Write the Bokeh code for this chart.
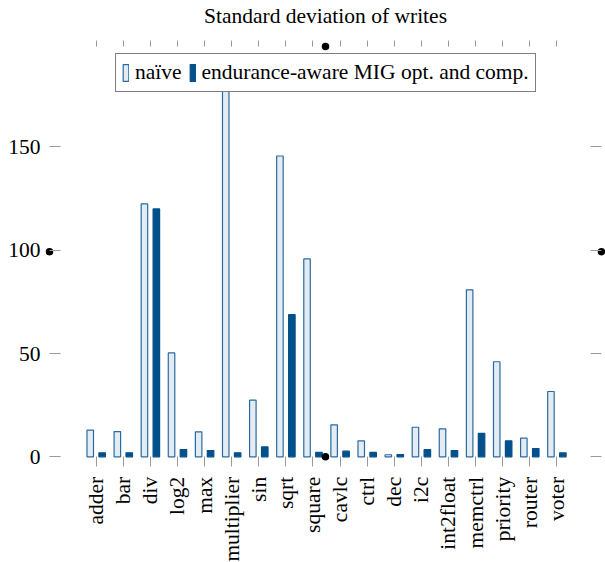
import math
from bokeh.plotting import figure
from bokeh.models import (ColumnDataSource, Range1d, FixedTicker, LinearAxis,
                          Legend, LegendItem, Label)
from bokeh.transform import dodge
from bokeh.embed import file_html
from bokeh.resources import INLINE

# ---- data -------------------------------------------------------------
categories = ["adder", "bar", "div", "log2", "max", "multiplier", "sin", "sqrt",
              "square", "cavlc", "ctrl", "dec", "i2c", "int2float", "memctrl",
              "priority", "router", "voter"]
naive = [12.9, 12.2, 122.4, 50.3, 12.1, 180.5, 27.4, 145.6, 95.8,
         15.5, 7.7, 1.0, 14.3, 13.5, 80.8, 46.0, 9.0, 31.6]
aware = [1.9, 1.9, 120.0, 3.5, 3.0, 1.9, 4.8, 68.8, 2.2,
         2.7, 2.1, 1.1, 3.5, 3.0, 11.3, 7.7, 4.0, 1.9]
y_ticks = [0, 50, 100, 150]
series_names = ["naïve", "endurance-aware MIG opt. and comp."]
title_text = "Standard deviation of writes"

# ---- style / geometry ---------------------------------------------------
FONT = "Liberation Serif"
FS = "21.5px"
LIGHT_FILL = "#e4ecf3"
LIGHT_EDGE = "#2b6aa1"
DARK = "#03508b"
TICK = "#9a9a9a"

W, H = 605, 562
# axis box (visual plot area) in data units
X_LO, X_HI = -1.723, 18.646
Y_LO, Y_HI = 0.0, 198.6
PX_X = 27.1      # pixels per category
PX_Y = 2.066     # pixels per unit
BOX_LEFT_PX = 49.0            # box left edge from canvas left
BOX_BOTTOM_PX = H - 456.3     # box bottom edge from canvas bottom

xr = Range1d(X_LO - BOX_LEFT_PX / PX_X, X_LO + (W - BOX_LEFT_PX) / PX_X)
yr = Range1d(Y_LO - BOX_BOTTOM_PX / PX_Y, Y_LO + (H - BOX_BOTTOM_PX) / PX_Y)

idx = list(range(len(categories)))
src = ColumnDataSource(dict(x=idx, naive=naive, aware=aware))

p = figure(width=W, height=H, output_backend="svg", toolbar_location=None,
           x_range=xr, y_range=yr, x_axis_location=None, y_axis_location=None,
           min_border=0, min_border_left=0, min_border_right=0,
           min_border_top=0, min_border_bottom=0)
p.outline_line_color = None
p.grid.visible = False
p.background_fill_color = "white"
p.border_fill_color = "white"

# bottom axis (category labels)
bottom = LinearAxis(fixed_location=Y_LO, ticker=FixedTicker(ticks=idx),
                    major_label_overrides={i: c for i, c in enumerate(categories)},
                    major_label_orientation=math.pi / 2,
                    major_label_text_font=FONT, major_label_text_font_size=FS,
                    major_label_text_color="black", major_label_standoff=10,
                    major_tick_out=10, major_tick_in=0, major_tick_line_color=TICK,
                    minor_tick_line_color=None, axis_line_color=None)
p.add_layout(bottom, "below")

# left axis
left = LinearAxis(fixed_location=X_LO, ticker=FixedTicker(ticks=y_ticks),
                  major_label_text_font=FONT, major_label_text_font_size=FS,
                  major_label_text_color="black", major_label_standoff=9,
                  major_tick_out=0, major_tick_in=11, major_tick_line_color=TICK,
                  minor_tick_line_color=None, axis_line_color=None)
p.add_layout(left, "left")

# top ticks
top = LinearAxis(fixed_location=Y_HI, ticker=FixedTicker(ticks=idx),
                 major_label_overrides={i: "" for i in idx},
                 major_label_text_font_size="0px",
                 major_tick_out=6, major_tick_in=0, major_tick_line_color=TICK,
                 minor_tick_line_color=None, axis_line_color=None,
                 major_label_standoff=0)
p.add_layout(top, "above")

# right ticks
right = LinearAxis(fixed_location=X_HI, ticker=FixedTicker(ticks=y_ticks),
                   major_label_overrides={t: "" for t in y_ticks},
                   major_label_text_font_size="0px",
                   major_tick_out=0, major_tick_in=11, major_tick_line_color=TICK,
                   minor_tick_line_color=None, axis_line_color=None,
                   major_label_standoff=0)
p.add_layout(right, "right")

# bars
r1 = p.vbar(x=dodge("x", -0.22, range=p.x_range), top="naive", width=0.24,
            source=src, fill_color=LIGHT_FILL, line_color=LIGHT_EDGE, line_width=1.2)
r2 = p.vbar(x=dodge("x", 0.22, range=p.x_range), top="aware", width=0.24,
            source=src, fill_color=DARK, line_color=DARK, line_width=1.2)

# anchor dots at the middle of each side of the axis box
xm = (X_LO + X_HI) / 2
ym = (Y_LO + Y_HI) / 2
p.scatter(x=[xm, xm, X_LO, X_HI], y=[Y_HI, Y_LO, ym, ym], size=7.5,
          marker="circle", fill_color="black", line_color=None)

legend = Legend(items=[LegendItem(label=series_names[0], renderers=[r1]),
                       LegendItem(label=series_names[1], renderers=[r2])],
                orientation="horizontal", location=(115, H - 92), margin=0,
                padding=6, spacing=7, label_standoff=6,
                glyph_width=7, glyph_height=21,
                label_text_font=FONT, label_text_font_size=FS,
                label_text_color="black",
                border_line_color="black", border_line_width=1,
                background_fill_color="white", background_fill_alpha=1.0)
p.add_layout(legend)

# title
p.add_layout(Label(x=xm, y=H - 15, x_units="data", y_units="screen",
                   text=title_text, text_align="center",
                   text_baseline="alphabetic", text_font=FONT,
                   text_font_size=FS, text_color="black"))

open("out.html", "w").write(file_html(p, INLINE))
